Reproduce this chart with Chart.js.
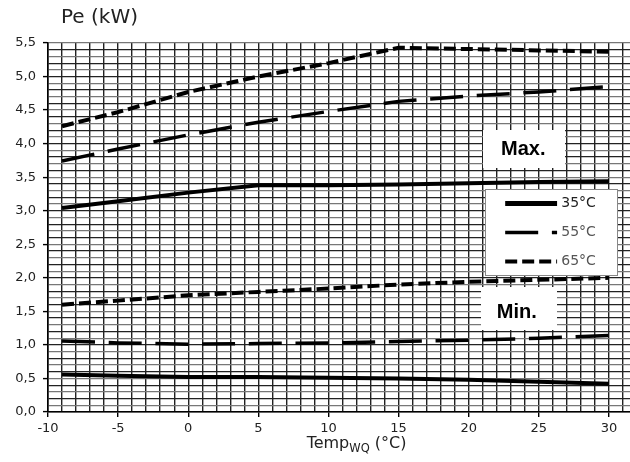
<!DOCTYPE html>
<html>
<head>
<meta charset="utf-8">
<script src="https://cdn.jsdelivr.net/npm/chart.js@4/dist/chart.umd.min.js"></script>
<style>
html,body{margin:0;padding:0;background:#fff;}
#wrap{width:630px;height:462px;position:relative;}
</style>
</head>
<body>
<div id="wrap"><canvas id="c" width="630" height="462"></canvas></div>
<script>
// ---- data ----
const temps = [-9, -5, 0, 5, 10, 15, 20, 25, 30];
const max35 = [3.04, 3.14, 3.27, 3.38, 3.38, 3.39, 3.41, 3.43, 3.44];
const max55 = [3.74, 3.92, 4.13, 4.32, 4.48, 4.63, 4.71, 4.77, 4.85];
const max65 = [4.26, 4.47, 4.77, 5.00, 5.20, 5.43, 5.41, 5.39, 5.37];
const min35 = [0.56, 0.54, 0.52, 0.52, 0.51, 0.50, 0.48, 0.45, 0.42];
const min55 = [1.06, 1.03, 1.01, 1.02, 1.03, 1.05, 1.07, 1.10, 1.14];
const min65 = [1.60, 1.66, 1.74, 1.79, 1.84, 1.90, 1.94, 1.97, 2.00];
const xTickLabels = ['-10', '-5', '0', '5', '10', '15', '20', '25', '30'];
const yTickLabels = ['0,0', '0,5', '1,0', '1,5', '2,0', '2,5', '3,0', '3,5', '4,0', '4,5', '5,0', '5,5'];
const legendLabels = ['35°C', '55°C', '65°C'];
const yTitle = 'Pe (kW)';
const xTitleMain = 'Temp', xTitleSub = 'WQ', xTitleEnd = ' (°C)';
const maxLabel = 'Max.', minLabel = 'Min.';

// ---- styles ----
const styles = [
  { borderDash: [], borderWidth: 4 },
  { borderDash: [33, 13.7], borderWidth: 3.5 },
  { borderDash: [12, 5], borderWidth: 4 }
];

function pts(arr) { return temps.map((t, i) => ({ x: t, y: arr[i] })); }
function ds(label, arr, st) {
  return {
    label: label, data: pts(arr), borderColor: '#000', backgroundColor: '#000',
    borderWidth: st.borderWidth, borderDash: st.borderDash, pointRadius: 0,
    tension: 0, fill: false, borderCapStyle: 'butt'
  };
}

const datasets = [
  ds('Max ' + legendLabels[0], max35, styles[0]),
  ds('Max ' + legendLabels[1], max55, styles[1]),
  ds('Max ' + legendLabels[2], max65, styles[2]),
  ds('Min ' + legendLabels[0], min35, styles[0]),
  ds('Min ' + legendLabels[1], min55, styles[1]),
  ds('Min ' + legendLabels[2], min65, styles[2])
];

const annot = {
  id: 'annot',
  afterDatasetsDraw(chart) {
    const { ctx, scales: { x, y } } = chart;
    ctx.save();
    function rect(x0, x1, y0, y1) {
      const a = x.getPixelForValue(x0), b = x.getPixelForValue(x1);
      const c = y.getPixelForValue(y0), d = y.getPixelForValue(y1);
      return [Math.round(a), Math.round(c), Math.round(b - a), Math.round(d - c)];
    }
    // Max box
    let r = rect(21.0, 26.85, 4.21, 3.64);
    ctx.fillStyle = '#fff';
    ctx.fillRect(r[0], r[1], r[2], r[3]);
    ctx.fillStyle = '#000';
    ctx.font = 'bold 20px "Liberation Sans", Arial, sans-serif';
    ctx.textBaseline = 'middle';
    ctx.textAlign = 'left';
    ctx.fillText(maxLabel, x.getPixelForValue(22.3), y.getPixelForValue(3.91));
    // Min box
    r = rect(20.9, 26.3, 1.87, 1.23);
    ctx.fillStyle = '#fff';
    ctx.fillRect(r[0], r[1], r[2], r[3]);
    ctx.fillStyle = '#000';
    ctx.fillText(minLabel, x.getPixelForValue(22.0), y.getPixelForValue(1.48));
    // Legend box
    r = rect(21.15, 30.56, 3.33, 2.05);
    ctx.fillStyle = '#fff';
    ctx.fillRect(r[0], r[1], r[2], r[3]);
    ctx.strokeStyle = '#888';
    ctx.lineWidth = 1;
    ctx.strokeRect(r[0] + 0.5, r[1] + 0.5, r[2], r[3]);
    const rowY = [3.12, 2.69, 2.25];
    ctx.font = '14px "DejaVu Sans", sans-serif';
    for (let i = 0; i < 3; i++) {
      const py = Math.round(y.getPixelForValue(rowY[i])) + 0.5;
      const x0 = x.getPixelForValue(22.6), x1 = x.getPixelForValue(26.3);
      ctx.beginPath();
      ctx.setLineDash(styles[i].borderDash);
      ctx.lineWidth = i === 0 ? 5 : styles[i].borderWidth;
      ctx.strokeStyle = '#000';
      ctx.moveTo(x0, py); ctx.lineTo(x1, py);
      ctx.stroke();
      ctx.setLineDash([]);
      ctx.fillStyle = i === 0 ? '#222' : '#555';
      ctx.fillText(legendLabels[i], x.getPixelForValue(26.6), py);
    }
    ctx.restore();
  },
  afterDraw(chart) {
    const { ctx, scales: { x } } = chart;
    ctx.save();
    ctx.fillStyle = '#222';
    ctx.textAlign = 'left';
    ctx.textBaseline = 'alphabetic';
    ctx.font = '20px "DejaVu Sans", sans-serif';
    ctx.fillText(yTitle, 61, 23);
    // x title with subscript
    const fMain = '16px "DejaVu Sans", sans-serif', fSub = '11.5px "DejaVu Sans", sans-serif';
    ctx.font = fMain; const w1 = ctx.measureText(xTitleMain).width; const w3 = ctx.measureText(xTitleEnd).width;
    ctx.font = fSub; const w2 = ctx.measureText(xTitleSub).width;
    const total = w1 + w2 + w3;
    const cx = x.getPixelForValue(12);
    let px = cx - total / 2;
    const base = 448;
    ctx.font = fMain; ctx.fillText(xTitleMain, px, base); px += w1;
    ctx.font = fSub; ctx.fillText(xTitleSub, px, base + 4); px += w2;
    ctx.font = fMain; ctx.fillText(xTitleEnd, px, base);
    ctx.restore();
  }
};

new Chart(document.getElementById('c'), {
  type: 'line',
  data: { datasets: datasets },
  options: {
    responsive: false,
    animation: false,
    layout: { padding: { top: 43, left: 0, right: 0, bottom: 0 } },
    plugins: { legend: { display: false }, tooltip: { enabled: false }, title: { display: false } },
    scales: {
      x: {
        type: 'linear', min: -10, max: 31.5,
        afterBuildTicks(scale) {
          const t = [];
          for (let v = -10; v <= 31; v++) t.push({ value: v });
          scale.ticks = t;
        },
        afterFit(scale) { scale.height = 50; },
        grid: {
          color: '#222', lineWidth: 1.4, tickLength: 5, tickWidth: 1.4,
          tickColor: (c) => (c.tick && Math.round(c.tick.value) % 5 === 0 && c.tick.value <= 30) ? '#000' : 'rgba(0,0,0,0)'
        },
        border: { display: true, color: '#000', width: 1.6 },
        ticks: {
          autoSkip: false, maxRotation: 0, padding: 4, color: '#222',
          font: { family: '"DejaVu Sans", sans-serif', size: 13 },
          callback: (v) => { const k = Math.round(v); return (k % 5 === 0 && k <= 30) ? xTickLabels[(k + 10) / 5] : ''; }
        }
      },
      y: {
        type: 'linear', min: 0, max: 5.5,
        afterBuildTicks(scale) {
          const t = [];
          for (let k = 0; k <= 55; k++) t.push({ value: k / 10 });
          scale.ticks = t;
        },
        afterFit(scale) { scale.width = 48; },
        grid: {
          color: (c) => (c.tick && Math.round(c.tick.value * 10) % 2 === 1) ? '#777' : '#222',
          lineWidth: 1.2, tickLength: 5, tickWidth: 1.4,
          tickColor: (c) => (c.tick && Math.round(c.tick.value * 10) % 5 === 0) ? '#000' : 'rgba(0,0,0,0)'
        },
        border: { display: true, color: '#000', width: 1.6 },
        ticks: {
          autoSkip: false, padding: 7, color: '#222',
          font: { family: '"DejaVu Sans", sans-serif', size: 13 },
          callback: (v) => { const k = Math.round(v * 10); return k % 5 === 0 ? yTickLabels[k / 5] : ''; }
        }
      }
    }
  },
  plugins: [annot]
});
</script>
</body>
</html>
